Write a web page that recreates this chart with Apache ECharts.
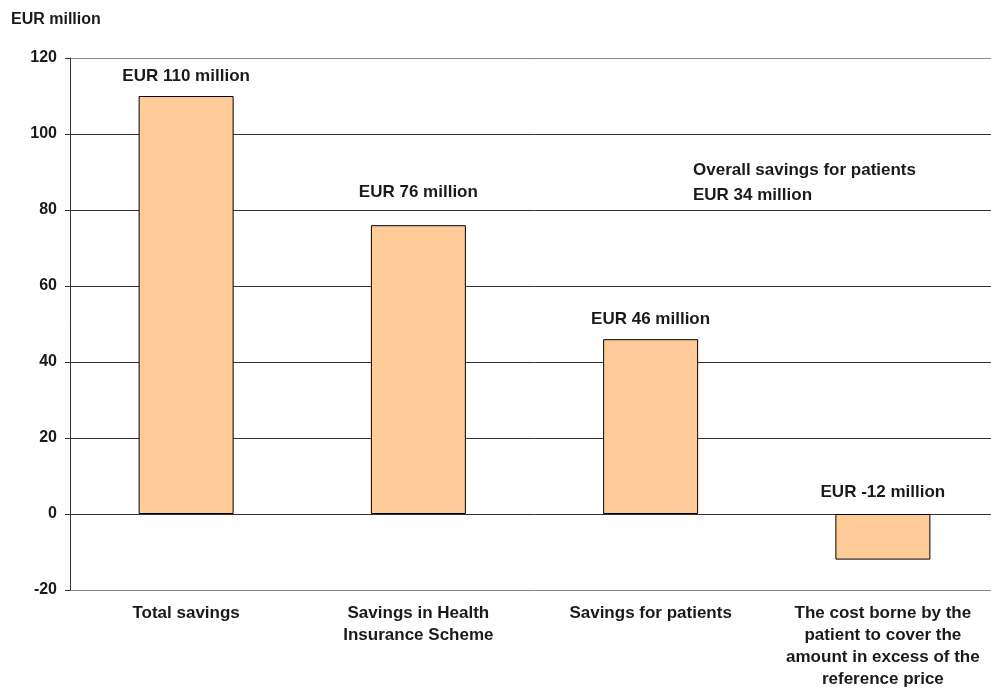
<!DOCTYPE html>
<html><head><meta charset="utf-8">
<script src="https://cdn.jsdelivr.net/npm/echarts@6/dist/echarts.min.js"></script>
<style>html,body{margin:0;padding:0;background:#fff;overflow:hidden;width:991px;height:693px}#c{width:999px;height:693px}</style>
</head><body><div id="c"></div>
<script>
const categories = [
  "Total savings",
  "Savings in Health\nInsurance Scheme",
  "Savings for patients",
  "The cost borne by the\npatient to cover the\namount in excess of the\nreference price"
];
const values = [110, 76, 46, -12];
const barLabels = ["EUR 110 million", "EUR 76 million", "EUR 46 million", "EUR -12 million"];
const yTicks = [-20, 0, 20, 40, 60, 80, 100, 120];
const unitTitle = "EUR million";
const noteLines = ["Overall savings for patients", "EUR 34 million"];

const FONT = '"Liberation Sans", Arial, sans-serif';
const labelOffsets = [[0, -6], [0, -19], [0, -6], [0, -8]];

const chart = echarts.init(document.getElementById('c'), null, {renderer: 'canvas'});
chart.setOption({
  animation: false,
  backgroundColor: '#fff',
  textStyle: {fontFamily: FONT},
  grid: {left: 70, top: 58, bottom: 103, right: 0, containLabel: false},
  graphic: [
    {type: 'text', left: 11, top: 12, style: {text: unitTitle, font: 'bold 16px ' + FONT, fill: '#1a1a1a'}},
    {type: 'text', left: 693, top: 158, style: {text: noteLines.join('\n'), font: 'bold 17px ' + FONT, fill: '#1a1a1a', lineHeight: 25}}
  ],
  xAxis: {
    type: 'category',
    data: categories,
    axisLine: {show: false},
    axisTick: {show: false},
    axisLabel: {
      interval: 0, margin: 12, color: '#1a1a1a', fontWeight: 'bold', fontSize: 17,
      lineHeight: 22, fontFamily: FONT, align: 'center'
    }
  },
  yAxis: {
    type: 'value',
    min: yTicks[0], max: yTicks[yTicks.length - 1], interval: 20,
    axisLine: {show: true, lineStyle: {color: '#333', width: 1}},
    axisTick: {show: true, length: 5, lineStyle: {color: '#333'}},
    axisLabel: {margin: 13, color: '#1a1a1a', fontWeight: 'bold', fontSize: 16, fontFamily: FONT},
    splitLine: {show: true, lineStyle: {color: ['#888', '#333', '#333', '#333', '#333', '#333', '#333', '#888'], width: 1}}
  },
  series: [{
    type: 'bar',
    barWidth: 95,
    data: values.map((v, i) => ({
      value: v,
      label: {
        show: true,
        position: 'top',
        formatter: barLabels[i],
        offset: labelOffsets[i]
      }
    })),
    itemStyle: {color: '#FFCC99', borderColor: '#000', borderWidth: 1},
    label: {show: true, color: '#1a1a1a', fontWeight: 'bold', fontSize: 17, fontFamily: FONT}
  }]
});
</script></body></html>
